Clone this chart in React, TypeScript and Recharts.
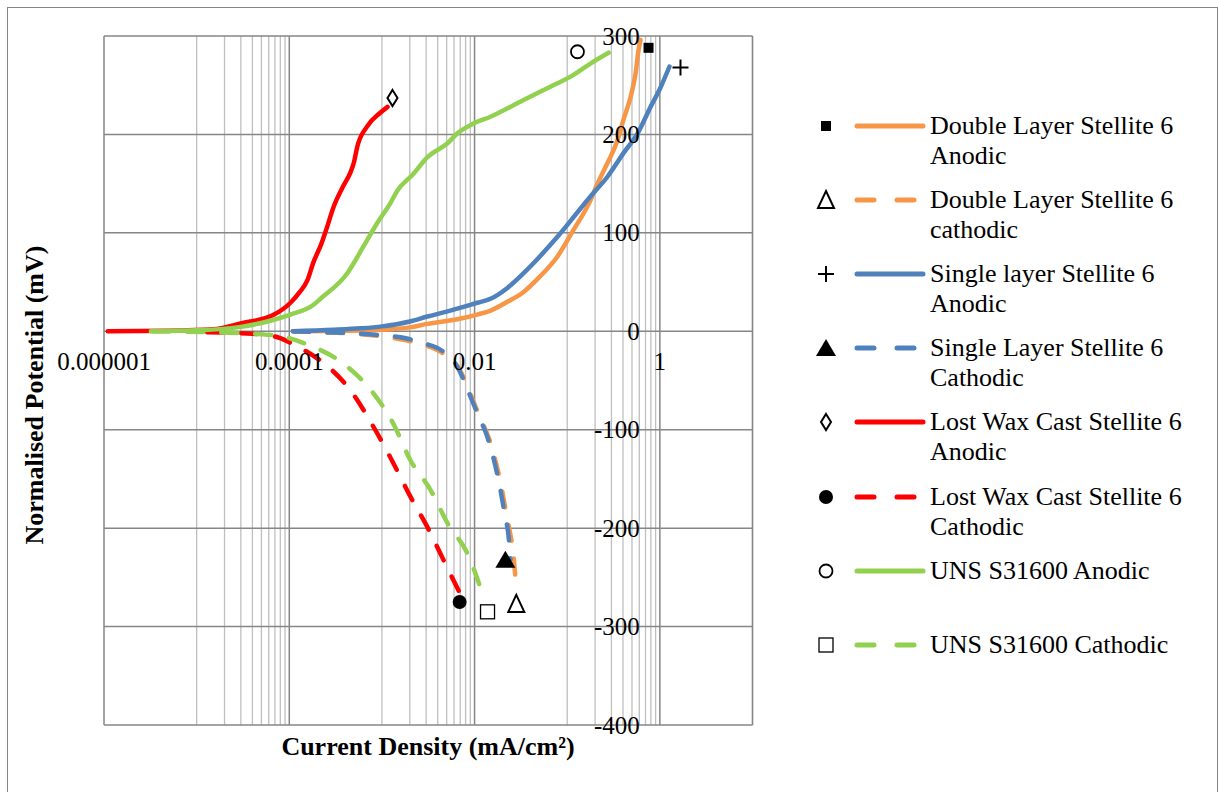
import React from 'react';
import { ComposedChart, Line, Scatter, XAxis, YAxis, ReferenceLine, ReferenceDot } from 'recharts';

type Pt = [number, number];

// current density (mA/cm²) vs normalised potential (mV)
const doubleAnodic: Pt[] = [
  [1.1e-4, 0], [3e-4, 0.3], [6e-4, 0.8], [1e-3, 1.5], [2e-3, 4], [3.1e-3, 7.5], [5e-3, 10.5], [7.1e-3, 13],
  [0.0107, 17], [0.0149, 21], [0.0226, 30], [0.0338, 40], [0.05, 55], [0.0785, 76], [0.117, 103],
  [0.178, 133], [0.212, 150], [0.272, 171], [0.349, 194], [0.405, 215], [0.483, 238], [0.547, 262],
  [0.589, 286], [0.619, 296],
];
const doubleCathodic: Pt[] = [
  [1.1e-4, 0], [2.3e-4, -1], [5e-4, -2.5], [9.6e-4, -5], [1.8e-3, -9], [2.9e-3, -14], [4.5e-3, -22],
  [6.8e-3, -38], [9.4e-3, -68], [0.0115, -88], [0.0143, -109], [0.019, -153], [0.0225, -190],
  [0.0245, -208], [0.0262, -225], [0.027, -240], [0.0285, -263],
];
const singleAnodic: Pt[] = [
  [1.1e-4, 0], [3e-4, 1.5], [5.9e-4, 3], [1e-3, 5], [2e-3, 10], [3.1e-3, 15], [5e-3, 20], [7.1e-3, 24],
  [0.0107, 29], [0.0149, 33], [0.0226, 44], [0.0338, 59], [0.0785, 96], [0.178, 137], [0.272, 157],
  [0.405, 181], [0.575, 201], [0.794, 228], [1.02, 248], [1.27, 269],
];
const singleCathodic: Pt[] = [
  [1.1e-4, 0], [2.3e-4, -1], [5e-4, -2], [9.6e-4, -4], [1.8e-3, -7], [2.8e-3, -12], [4.5e-3, -20],
  [6.5e-3, -36], [9e-3, -66], [0.011, -86], [0.0137, -107], [0.0181, -151], [0.0215, -189],
  [0.0232, -207], [0.0244, -232],
];
const lostWaxAnodic: Pt[] = [
  [1.1e-6, 0], [5e-6, 0.5], [1.5e-5, 2], [3e-5, 8], [6.7e-5, 16.5], [1.03e-4, 29], [1.3e-4, 40],
  [1.57e-4, 52], [1.82e-4, 70], [2.2e-4, 88], [2.5e-4, 103], [3e-4, 126], [3.8e-4, 147], [4.6e-4, 162],
  [5e-4, 172], [5.4e-4, 187], [6.9e-4, 208], [9.6e-4, 222], [1.15e-3, 228],
];
const lostWaxCathodic: Pt[] = [
  [1.3e-5, -1], [3e-5, -2], [6e-5, -4], [8e-5, -7], [1.04e-4, -12], [1.5e-4, -20], [2.33e-4, -32],
  [4.57e-4, -60], [8.1e-4, -97], [1.33e-3, -134], [2.03e-3, -168], [3.1e-3, -199], [4.6e-3, -232],
  [7.1e-3, -268],
];
const unsAnodic: Pt[] = [
  [3.2e-6, 0], [1e-5, 1], [3e-5, 4.5], [6.7e-5, 11.5], [1.03e-4, 17], [1.83e-4, 27], [2.17e-4, 33],
  [4.23e-4, 59], [6.3e-4, 86], [8.9e-4, 110], [1.23e-3, 130], [1.47e-3, 143], [2.19e-3, 160],
  [3.1e-3, 177], [5.1e-3, 191], [6.5e-3, 201], [9.7e-3, 211], [0.0149, 218], [0.0338, 235],
  [0.0785, 252], [0.11, 259], [0.178, 272], [0.28, 283],
];
const unsCathodic: Pt[] = [
  [3.4e-6, 0], [1.5e-5, -1], [5e-5, -3], [1e-4, -7], [1.43e-4, -12], [4.23e-4, -36], [8.1e-4, -63],
  [1.33e-3, -94], [2.03e-3, -131], [3.34e-3, -161], [5.1e-3, -195], [8.4e-3, -226], [0.0125, -270],
];

// marker labels placed next to each curve end
const markerPoints: Pt[] = [
  [0.755, 288], [0.0282, -277], [1.67, 268], [0.0215, -232],
  [1.3e-3, 237], [6.9e-3, -275], [0.129, 284], [0.0138, -285],
];

const xMajor = [1e-6, 1e-4, 1e-2, 1];
const xTickLabels = ['0.000001', '0.0001', '0.01', '1'];
const yTicks = [-400, -300, -200, -100, 0, 100, 200, 300];

type MarkerKind = 'square' | 'delta' | 'plus' | 'triangle' | 'lozenge' | 'dot' | 'circle' | 'box';

const series = [
  { key: 'da', label: ['Double Layer Stellite 6', 'Anodic'], color: '#F79646', dashed: false, data: doubleAnodic, marker: 'square' as MarkerKind },
  { key: 'dc', label: ['Double Layer Stellite 6', 'cathodic'], color: '#F79646', dashed: true, data: doubleCathodic, marker: 'delta' as MarkerKind },
  { key: 'sa', label: ['Single layer Stellite 6', 'Anodic'], color: '#4F81BD', dashed: false, data: singleAnodic, marker: 'plus' as MarkerKind },
  { key: 'sc', label: ['Single Layer Stellite 6', 'Cathodic'], color: '#4F81BD', dashed: true, data: singleCathodic, marker: 'triangle' as MarkerKind },
  { key: 'la', label: ['Lost Wax Cast Stellite 6', 'Anodic'], color: '#FF0000', dashed: false, data: lostWaxAnodic, marker: 'lozenge' as MarkerKind },
  { key: 'lc', label: ['Lost Wax Cast Stellite 6', 'Cathodic'], color: '#FF0000', dashed: true, data: lostWaxCathodic, marker: 'dot' as MarkerKind },
  { key: 'ua', label: ['UNS S31600 Anodic'], color: '#92D050', dashed: false, data: unsAnodic, marker: 'circle' as MarkerKind },
  { key: 'uc', label: ['UNS S31600 Cathodic'], color: '#92D050', dashed: true, data: unsCathodic, marker: 'box' as MarkerKind },
];

const minorX: number[] = [];
xMajor.forEach((m) => {
  for (let k = 1; k <= 9; k++) {
    const v = m * 10 * k;
    if (v <= 10.0001) minorX.push(v);
  }
});

const FONT = '"Liberation Serif", "Times New Roman", serif';
const DASH = '16 18';

function Glyph({ kind, x, y }: { kind: MarkerKind; x: number; y: number }) {
  switch (kind) {
    case 'square':
      return <rect x={x - 5} y={y - 5} width={10} height={10} fill="#000" />;
    case 'delta':
      return <path d={`M${x} ${y - 9} L${x + 8} ${y + 8} L${x - 8} ${y + 8} Z`} fill="none" stroke="#000" strokeWidth={2} />;
    case 'plus':
      return <path d={`M${x - 8} ${y} H${x + 8} M${x} ${y - 8} V${y + 8}`} stroke="#000" strokeWidth={2} />;
    case 'triangle':
      return <path d={`M${x} ${y - 9} L${x + 10} ${y + 8} L${x - 10} ${y + 8} Z`} fill="#000" />;
    case 'lozenge':
      return <path d={`M${x} ${y - 8} L${x + 5} ${y} L${x} ${y + 8} L${x - 5} ${y} Z`} fill="none" stroke="#000" strokeWidth={2} />;
    case 'dot':
      return <circle cx={x} cy={y} r={7} fill="#000" />;
    case 'circle':
      return <circle cx={x} cy={y} r={6.5} fill="none" stroke="#000" strokeWidth={1.8} />;
    default:
      return <rect x={x - 7} y={y - 7} width={14} height={14} fill="none" stroke="#000" strokeWidth={1.3} />;
  }
}

export default function App() {
  return (
    <div style={{ position: 'absolute', left: 7, top: 7, width: 1209, height: 800, border: '1px solid #868686', fontFamily: FONT }}>
      <div style={{ position: 'absolute', left: -8, top: -8 }}>
        <ComposedChart width={1218} height={792} margin={{ left: 104, top: 36, right: 465.5, bottom: 67 }}>
          <XAxis type="number" dataKey="x" scale="log" domain={[1e-6, 10]} allowDataOverflow hide />
          <YAxis type="number" dataKey="y" domain={[-400, 300]} allowDataOverflow hide />
          {minorX.map((v) => (
            <ReferenceLine key={'mx' + v} x={v} stroke="#BFBFBF" strokeWidth={1.3} />
          ))}
          {xMajor.map((v) => (
            <ReferenceLine key={'Mx' + v} x={v} stroke="#868686" strokeWidth={1.5} />
          ))}
          {yTicks.map((v) => (
            <ReferenceLine key={'y' + v} y={v} stroke="#868686" strokeWidth={1.5} />
          ))}
          <ReferenceLine x={10} stroke="#868686" strokeWidth={1.5} />
          {series.map((s) => (
            <Line
              key={s.key}
              data={s.data.map(([x, y]) => ({ x, y }))}
              dataKey="y"
              type="monotone"
              stroke={s.color}
              strokeWidth={4.5}
              strokeDasharray={s.dashed ? DASH : undefined}
              strokeLinecap="round"
              strokeLinejoin="round"
              dot={false}
              activeDot={false}
              isAnimationActive={false}
            />
          ))}
          {series.map((s, i) => (
            <Scatter
              key={'m' + s.key}
              data={[{ x: markerPoints[i][0], y: markerPoints[i][1] }]}
              dataKey="y"
              isAnimationActive={false}
              shape={(p: any) => <Glyph kind={s.marker} x={p.cx} y={p.cy} />}
            />
          ))}
          {xMajor.map((v, i) => (
            <ReferenceDot
              key={'xl' + v}
              x={v}
              y={0}
              r={1}
              shape={(p: any) => (
                <text x={p.cx} y={p.cy + 30} textAnchor="middle" dominantBaseline="central" fontFamily={FONT} fontSize={25} fill="#000">
                  {xTickLabels[i]}
                </text>
              )}
            />
          ))}
          {yTicks.map((v) => (
            <ReferenceDot
              key={'yl' + v}
              x={1}
              y={v}
              r={1}
              shape={(p: any) => (
                <text x={p.cx - 20} y={p.cy} textAnchor="end" dominantBaseline="central" fontFamily={FONT} fontSize={25} fill="#000">
                  {v < 0 ? '-' + Math.abs(v) : String(v)}
                </text>
              )}
            />
          ))}
        </ComposedChart>
      </div>

      <div style={{ position: 'absolute', left: 428 - 8 - 250, top: 747 - 8 - 16, width: 500, textAlign: 'center', fontWeight: 'bold', fontSize: 26, lineHeight: '32px' }}>
        Current Density (mA/cm²)
      </div>
      <div
        style={{
          position: 'absolute', left: 35 - 8 - 250, top: 395 - 8 - 16, width: 500, textAlign: 'center',
          fontWeight: 'bold', fontSize: 26, lineHeight: '32px', transform: 'rotate(-90deg)',
        }}
      >
        Normalised Potential (mV)
      </div>

      {series.map((s, i) => {
        const cy = 126 + 74.1 * i - 8;
        return (
          <div key={'lg' + s.key}>
            <svg style={{ position: 'absolute', left: 800 - 8, top: cy - 15 }} width={130} height={30}>
              <Glyph kind={s.marker} x={26} y={15} />
              <line
                x1={57} y1={15} x2={123} y2={15}
                stroke={s.color} strokeWidth={5} strokeLinecap="round"
                strokeDasharray={s.dashed ? '17 23' : undefined}
              />
            </svg>
            <div style={{ position: 'absolute', left: 930 - 8, top: cy - 15, fontSize: 26, lineHeight: '30px', whiteSpace: 'nowrap' }}>
              {s.label.map((t) => (
                <div key={t}>{t}</div>
              ))}
            </div>
          </div>
        );
      })}
    </div>
  );
}
